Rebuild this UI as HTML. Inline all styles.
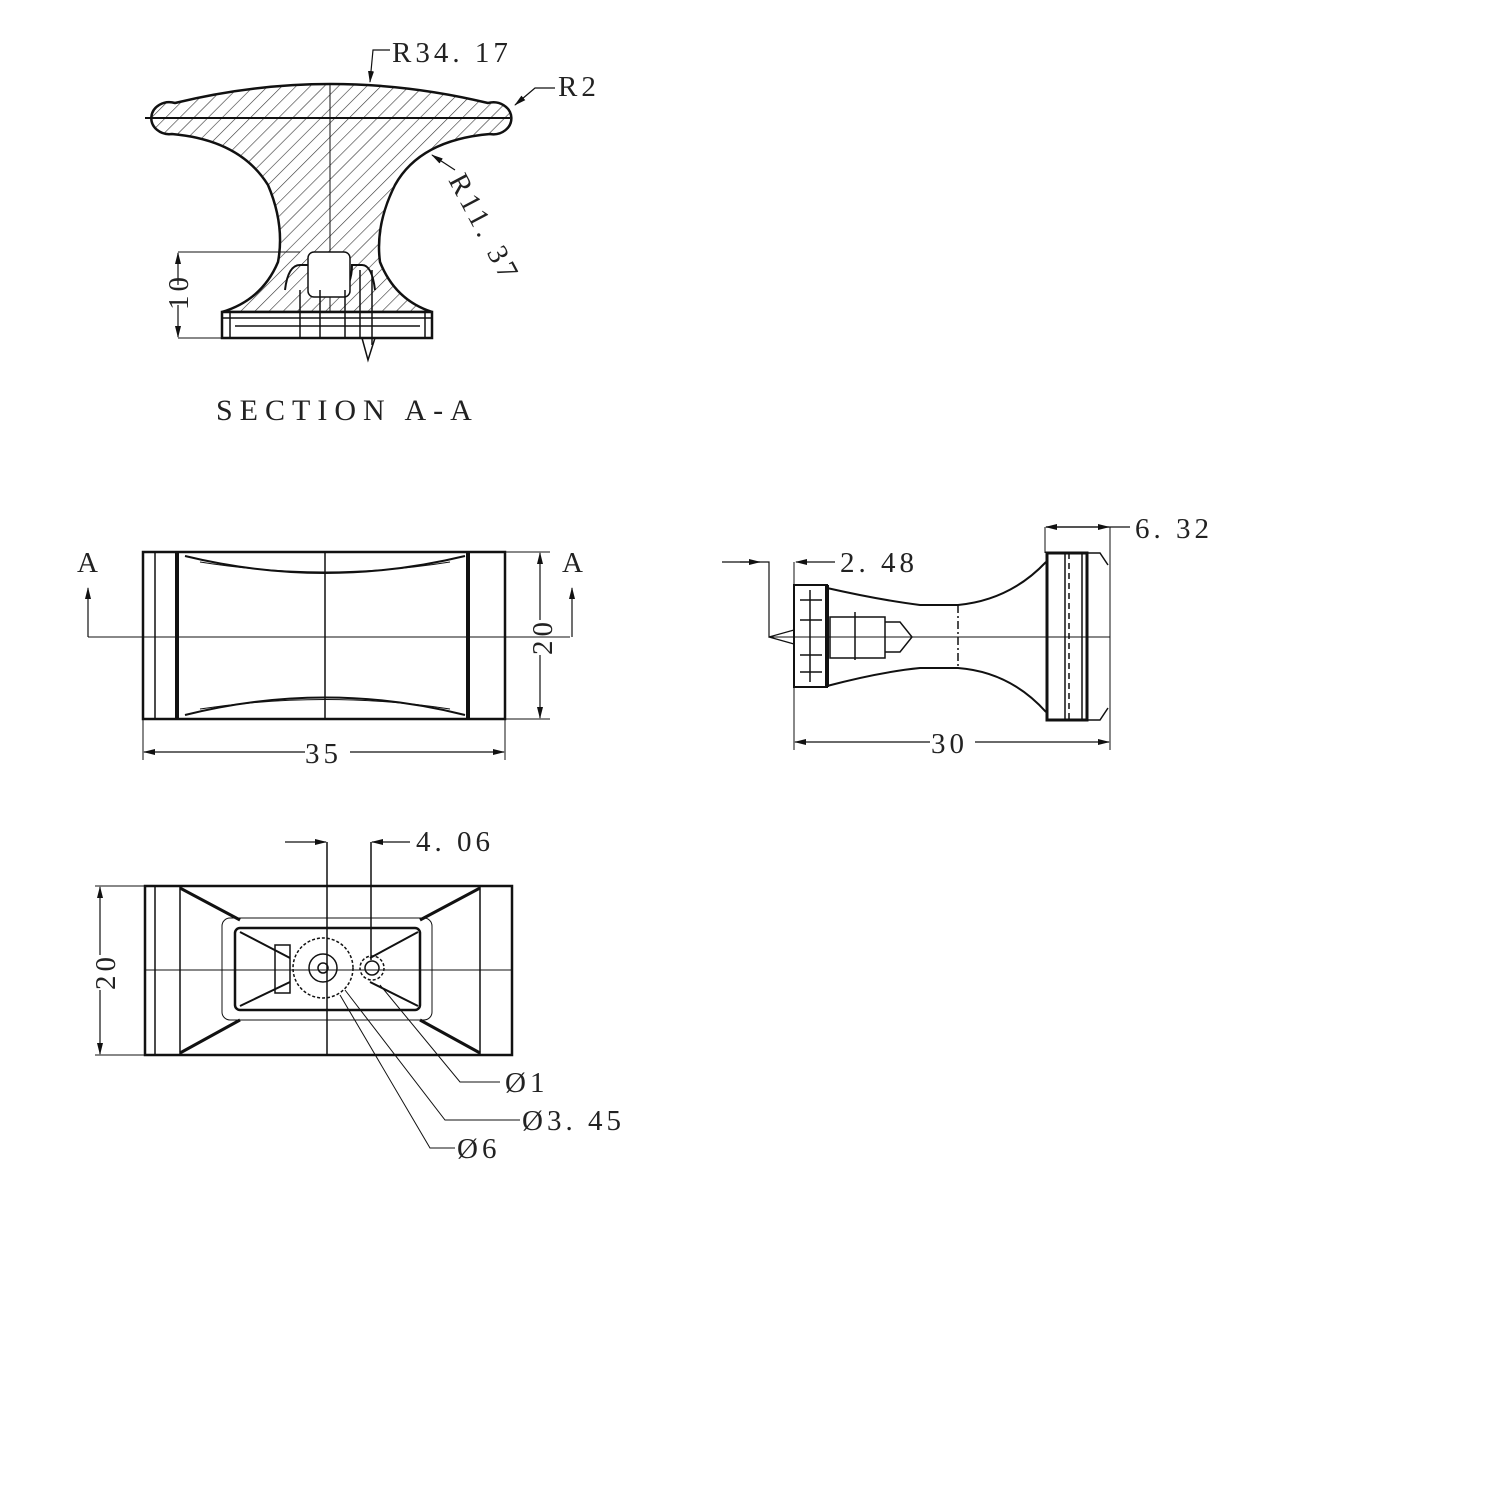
<!DOCTYPE html>
<html><head><meta charset="utf-8"><style>
html,body{margin:0;padding:0;background:#fff}
svg{display:block}
text{font-family:"Liberation Serif",serif;fill:#222;letter-spacing:4px}
</style></head><body>
<svg width="1500" height="1500" viewBox="0 0 1500 1500" xmlns="http://www.w3.org/2000/svg">
<defs>
<pattern id="h" patternUnits="userSpaceOnUse" width="10" height="10" patternTransform="rotate(45)">
<line x1="0" y1="0" x2="0" y2="10" stroke="#333" stroke-width="1.2"/>
</pattern>
<marker id="ar" markerWidth="12" markerHeight="8" refX="11" refY="4" orient="auto" markerUnits="userSpaceOnUse">
<path d="M0,1 L12,4 L0,7 Z" fill="#111"/>
</marker>
</defs>
<g stroke="#111" fill="none" stroke-width="1.5">
<!-- SECTION A-A -->
<path d="M175,103 Q330,65 488,103 A18,16 0 1 1 490,134 Q420,140 395,185 Q375,225 380,262 Q395,300 432,312 L222,312 Q262,300 278,262 Q285,225 268,185 Q240,140 172,134 A18,16 0 1 1 175,103 Z" fill="url(#h)" stroke-width="2.5"/>
<line x1="145" y1="118" x2="510" y2="118" stroke-width="2"/>
<line x1="330" y1="85" x2="330" y2="338" stroke-width="1"/>
<rect x="222" y="312" width="210" height="26" fill="#fff" stroke-width="2.5"/>
<line x1="222" y1="318" x2="432" y2="318"/><line x1="235" y1="326" x2="420" y2="326"/>
<line x1="230" y1="312" x2="230" y2="338"/><line x1="425" y1="312" x2="425" y2="338"/>
<path d="M285,290 Q288,265 300,265 L310,265 L310,285 Q320,298 340,295 Q352,285 352,265 L362,265 Q372,265 375,290" stroke-width="2"/>
<rect x="308" y="252" width="42" height="45" rx="6" fill="#fff"/>
<line x1="300" y1="290" x2="300" y2="338"/><line x1="320" y1="290" x2="320" y2="338"/><line x1="345" y1="290" x2="345" y2="338"/><line x1="360" y1="270" x2="360" y2="338"/><line x1="372" y1="270" x2="372" y2="345"/>
<path d="M362,338 L368,360 L375,338"/>
<line x1="178" y1="252" x2="300" y2="252" stroke-width="1"/>
<line x1="178" y1="338" x2="222" y2="338" stroke-width="1"/>
<line x1="178" y1="285" x2="178" y2="253" marker-end="url(#ar)" stroke-width="1.2"/>
<line x1="178" y1="305" x2="178" y2="337" marker-end="url(#ar)" stroke-width="1.2"/>
<path d="M390,50 L373,50 L370,82" marker-end="url(#ar)" stroke-width="1.2"/>
<path d="M555,88 L535,88 L515,105" marker-end="url(#ar)" stroke-width="1.2"/>
<line x1="455" y1="170" x2="432" y2="155" marker-end="url(#ar)" stroke-width="1.2"/>

<!-- FRONT VIEW -->
<rect x="143" y="552" width="362" height="167" stroke-width="2.5"/>
<line x1="155" y1="552" x2="155" y2="719"/>
<line x1="177" y1="552" x2="177" y2="719" stroke-width="4"/>
<line x1="468" y1="552" x2="468" y2="719" stroke-width="4"/>
<line x1="325" y1="552" x2="325" y2="719"/>
<line x1="88" y1="637" x2="570" y2="637" stroke-width="1"/>
<path d="M185,556 Q325,590 465,556" stroke-width="2"/>
<path d="M185,715 Q325,680 465,715" stroke-width="2"/>
<path d="M200,562 Q325,582 450,562" stroke-width="1"/>
<path d="M200,709 Q325,690 450,709" stroke-width="1"/>
<line x1="88" y1="637" x2="88" y2="588" marker-end="url(#ar)" stroke-width="1.2"/>
<line x1="572" y1="637" x2="572" y2="588" marker-end="url(#ar)" stroke-width="1.2"/>
<line x1="505" y1="552" x2="550" y2="552" stroke-width="1"/>
<line x1="505" y1="719" x2="550" y2="719" stroke-width="1"/>
<line x1="540" y1="620" x2="540" y2="553" marker-end="url(#ar)" stroke-width="1.2"/>
<line x1="540" y1="655" x2="540" y2="718" marker-end="url(#ar)" stroke-width="1.2"/>
<line x1="143" y1="719" x2="143" y2="760" stroke-width="1"/>
<line x1="505" y1="719" x2="505" y2="760" stroke-width="1"/>
<line x1="305" y1="752" x2="144" y2="752" marker-end="url(#ar)" stroke-width="1.2"/>
<line x1="350" y1="752" x2="504" y2="752" marker-end="url(#ar)" stroke-width="1.2"/>

<!-- SIDE VIEW -->
<rect x="794" y="585" width="33" height="102" stroke-width="2"/>
<line x1="827" y1="585" x2="827" y2="687" stroke-width="4"/>
<line x1="800" y1="600" x2="822" y2="600"/><line x1="800" y1="620" x2="822" y2="620"/><line x1="800" y1="655" x2="822" y2="655"/><line x1="800" y1="672" x2="822" y2="672"/>
<line x1="810" y1="590" x2="810" y2="682"/>
<path d="M827,588 Q880,600 920,605 L958,605 Q1010,600 1046,562" stroke-width="2"/>
<path d="M827,686 Q880,672 920,668 L958,668 Q1010,672 1046,712" stroke-width="2"/>
<line x1="958" y1="605" x2="958" y2="668" stroke-dasharray="8,3,2,3"/>
<rect x="830" y="617" width="55" height="41"/>
<path d="M885,622 L900,622 L912,637 L900,652 L885,652"/>
<line x1="855" y1="612" x2="855" y2="660"/>
<line x1="769" y1="637" x2="1110" y2="637" stroke-width="1"/>
<rect x="1047" y="553" width="40" height="167" stroke-width="3"/>
<line x1="1065" y1="553" x2="1065" y2="720"/><line x1="1069" y1="553" x2="1069" y2="720" stroke-dasharray="6,4"/><line x1="1082" y1="553" x2="1082" y2="720"/>
<path d="M1087,553 L1100,553 L1108,565" /><path d="M1087,720 L1100,720 L1108,708"/>
<path d="M722,562 L769,562 L769,637 L794,630 M769,637 L794,644" stroke-width="1.2"/>
<line x1="740" y1="562" x2="760" y2="562" marker-end="url(#ar)" stroke-width="1.2"/>
<line x1="794" y1="562" x2="794" y2="750" stroke-width="1"/>
<line x1="835" y1="562" x2="796" y2="562" marker-end="url(#ar)" stroke-width="1.2"/>
<line x1="1045" y1="527" x2="1045" y2="553" stroke-width="1"/>
<line x1="1110" y1="527" x2="1110" y2="750" stroke-width="1"/>
<line x1="1130" y1="527" x2="1046" y2="527" stroke-width="1.2"/>
<line x1="1070" y1="527" x2="1109" y2="527" marker-end="url(#ar)" stroke-width="1.2"/>
<line x1="1070" y1="527" x2="1046" y2="527" marker-end="url(#ar)" stroke-width="1.2"/>
<line x1="930" y1="742" x2="795" y2="742" marker-end="url(#ar)" stroke-width="1.2"/>
<line x1="975" y1="742" x2="1109" y2="742" marker-end="url(#ar)" stroke-width="1.2"/>

<!-- BOTTOM VIEW -->
<rect x="145" y="886" width="367" height="169" stroke-width="2.5"/>
<line x1="155" y1="886" x2="155" y2="1055"/>
<line x1="180" y1="886" x2="180" y2="1055"/>
<line x1="480" y1="886" x2="480" y2="1055"/>
<rect x="222" y="918" width="210" height="102" rx="8" stroke-width="1"/>
<rect x="235" y="928" width="185" height="82" rx="5" stroke-width="2.5"/>
<path d="M180,888 L240,920 M180,1053 L240,1020 M480,888 L420,920 M480,1053 L420,1020" stroke-width="3"/>
<path d="M240,932 L290,958 M240,1006 L290,982 M418,932 L370,958 M418,1006 L370,982" stroke-width="2"/>
<line x1="145" y1="970" x2="512" y2="970" stroke-width="1"/>
<line x1="327" y1="842" x2="327" y2="1055" stroke-width="1.5"/>
<line x1="371" y1="842" x2="371" y2="960" stroke-width="1.5"/>
<rect x="275" y="945" width="15" height="48"/>
<circle cx="323" cy="968" r="30" stroke-dasharray="3,2"/>
<circle cx="323" cy="968" r="14"/>
<circle cx="323" cy="968" r="5"/>
<circle cx="372" cy="968" r="7"/>
<circle cx="372" cy="968" r="12" stroke-dasharray="3,2"/>
<line x1="100" y1="955" x2="100" y2="887" marker-end="url(#ar)" stroke-width="1.2"/>
<line x1="100" y1="990" x2="100" y2="1054" marker-end="url(#ar)" stroke-width="1.2"/>
<line x1="95" y1="886" x2="145" y2="886" stroke-width="1"/>
<line x1="95" y1="1055" x2="145" y2="1055" stroke-width="1"/>
<line x1="285" y1="842" x2="326" y2="842" marker-end="url(#ar)" stroke-width="1.2"/>
<line x1="410" y1="842" x2="372" y2="842" marker-end="url(#ar)" stroke-width="1.2"/>
<path d="M500,1082 L460,1082 L380,985" stroke-width="1"/>
<path d="M520,1120 L445,1120 L345,990" stroke-width="1"/>
<path d="M455,1148 L430,1148 L340,995" stroke-width="1"/>
</g>
<g font-size="29">
<text x="392" y="62">R34. 17</text>
<text x="558" y="96">R2</text>
<text x="0" y="0" transform="translate(448,180) rotate(62)">R11. 37</text>
<text x="0" y="0" transform="translate(188,310) rotate(-90)">10</text>
<text x="216" y="420" font-size="30" style="letter-spacing:7px">SECTION A-A</text>
<text x="77" y="572">A</text>
<text x="562" y="572">A</text>
<text x="0" y="0" transform="translate(552,655) rotate(-90)">20</text>
<text x="305" y="763">35</text>
<text x="840" y="572">2. 48</text>
<text x="1135" y="538">6. 32</text>
<text x="931" y="753">30</text>
<text x="416" y="851">4. 06</text>
<text x="0" y="0" transform="translate(115,990) rotate(-90)">20</text>
<text x="505" y="1092">Ø1</text>
<text x="522" y="1130">Ø3. 45</text>
<text x="457" y="1158">Ø6</text>
</g>
</svg>
</body></html>
